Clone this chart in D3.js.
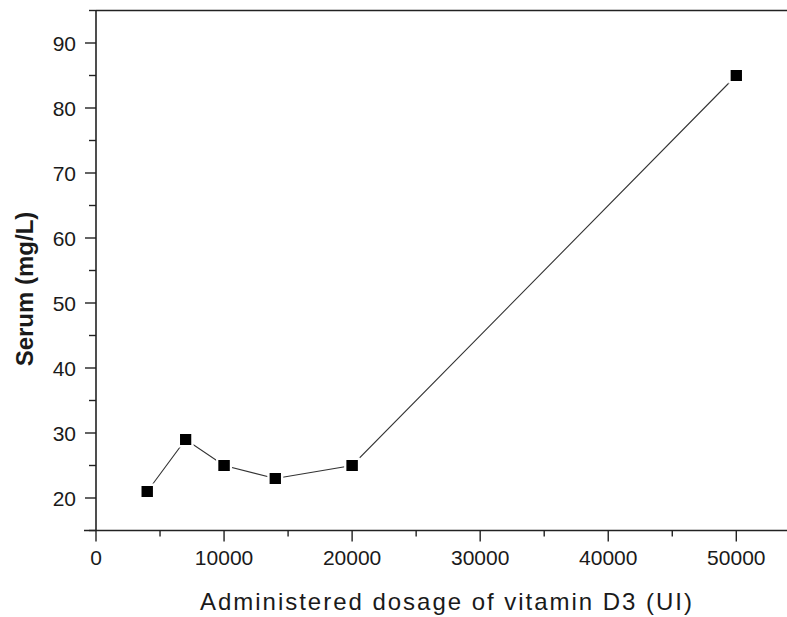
<!DOCTYPE html>
<html>
<head>
<meta charset="utf-8">
<script src="https://cdn.jsdelivr.net/npm/d3@7"></script>
<style>
  html, body { margin: 0; padding: 0; background: #fff; }
  svg { display: block; }
  text { font-family: "Liberation Sans", Arial, sans-serif; fill: #1a1a1a; }
</style>
</head>
<body>
<svg id="chart" width="787" height="617"></svg>
<script>
const dosage = [4000, 7000, 10000, 14000, 20000, 50000];
const serum = [21, 29, 25, 23, 25, 85];
const xTicks = [0, 10000, 20000, 30000, 40000, 50000];
const yTicks = [20, 30, 40, 50, 60, 70, 80, 90];
const xTitle = "Administered dosage of vitamin D3 (UI)";
const yTitle = "Serum (mg/L)";

const svg = d3.select("#chart");
const x = d3.scaleLinear().domain([0, 55000]).range([96, 96 + 55000 * 0.012806]);
const y = d3.scaleLinear().domain([15, 95]).range([530.5, 10.5]);

const axisColor = "#222";

// top frame line
svg.append("line")
  .attr("x1", x(0)).attr("x2", 787)
  .attr("y1", y(95)).attr("y2", y(95))
  .attr("stroke", axisColor).attr("stroke-width", 1.6);

// x axis
const xMinor = d3.range(5000, 55001, 10000);
const gx = svg.append("g").attr("transform", `translate(0,${y(15)})`);
gx.append("line").attr("x1", 84).attr("x2", 787).attr("y1", 0).attr("y2", 0)
  .attr("stroke", axisColor).attr("stroke-width", 1.6);
gx.selectAll(".maj").data(xTicks).join("line")
  .attr("x1", d => x(d)).attr("x2", d => x(d)).attr("y1", 0).attr("y2", 11)
  .attr("stroke", axisColor).attr("stroke-width", 1.4);
gx.selectAll(".min").data(xMinor).join("line")
  .attr("x1", d => x(d)).attr("x2", d => x(d)).attr("y1", 0).attr("y2", 6)
  .attr("stroke", axisColor).attr("stroke-width", 1.4);
gx.selectAll("text").data(xTicks).join("text")
  .attr("x", d => x(d)).attr("y", 34)
  .attr("text-anchor", "middle").attr("font-size", 21)
  .text(d => d);

// y axis
const yMinor = d3.range(15, 96, 10);
const gy = svg.append("g");
gy.append("line").attr("x1", x(0)).attr("x2", x(0)).attr("y1", y(95)).attr("y2", y(15))
  .attr("stroke", axisColor).attr("stroke-width", 1.6);
gy.selectAll(".maj").data(yTicks).join("line")
  .attr("x1", x(0) - 11).attr("x2", x(0)).attr("y1", d => y(d)).attr("y2", d => y(d))
  .attr("stroke", axisColor).attr("stroke-width", 1.4);
gy.selectAll(".min").data(yMinor).join("line")
  .attr("x1", x(0) - 7).attr("x2", x(0)).attr("y1", d => y(d)).attr("y2", d => y(d))
  .attr("stroke", axisColor).attr("stroke-width", 1.4);
gy.selectAll("text").data(yTicks).join("text")
  .attr("x", 76).attr("y", d => y(d) + 7.5)
  .attr("text-anchor", "end").attr("font-size", 21)
  .text(d => d);

// axis titles
svg.append("text")
  .attr("x", 200).attr("y", 610)
  .attr("font-size", 24)
  .attr("textLength", 492).attr("lengthAdjust", "spacing")
  .text(xTitle);
svg.append("text")
  .attr("transform", "translate(33,289) rotate(-90)")
  .attr("text-anchor", "middle")
  .attr("font-size", 24).attr("font-weight", "bold")
  .text(yTitle);

// line
const data = dosage.map((d, i) => ({ x: d, y: serum[i] }));
svg.append("path").datum(data)
  .attr("fill", "none").attr("stroke", "#333").attr("stroke-width", 1.1)
  .attr("d", d3.line().x(d => x(d.x)).y(d => y(d.y)));

// markers
const s = 11;
svg.selectAll(".pt").data(data).join("rect")
  .attr("x", d => x(d.x) - s / 2).attr("y", d => y(d.y) - s / 2)
  .attr("width", s).attr("height", s)
  .attr("fill", "#000").attr("stroke", "#fff").attr("stroke-width", 5)
  .attr("paint-order", "stroke");
svg.selectAll(".pt2").data(data).join("rect")
  .attr("x", d => x(d.x) - s / 2).attr("y", d => y(d.y) - s / 2)
  .attr("width", s).attr("height", s)
  .attr("fill", "#000");
</script>
</body>
</html>
